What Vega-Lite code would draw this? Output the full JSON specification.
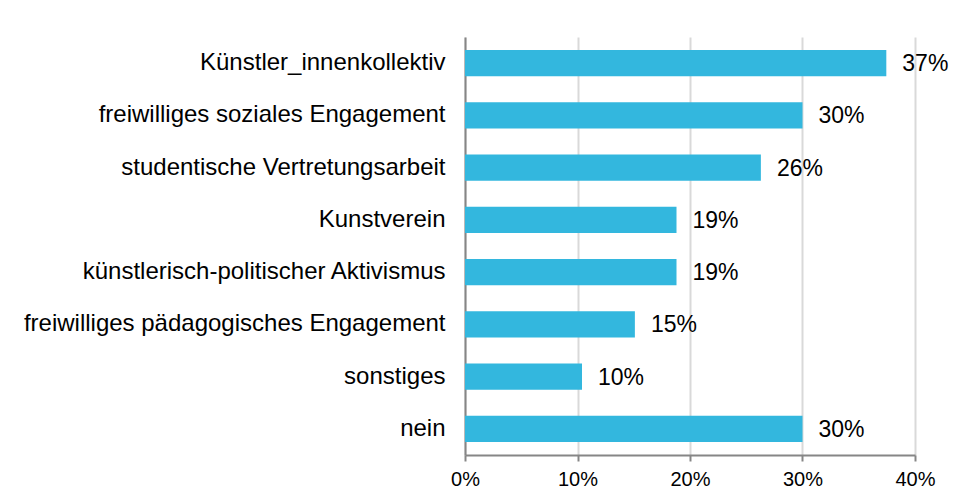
{
  "$schema": "https://vega.github.io/schema/vega-lite/v6.json",
  "autosize": {"type": "none"},
  "padding": {"left": 465, "top": 37, "right": 39, "bottom": 49},
  "width": 450,
  "height": 418,
  "background": "white",
  "config": {
    "view": {"stroke": null},
    "font": "Liberation Sans"
  },
  "data": {
    "values": [
      {"kategorie": "Künstler_innenkollektiv", "anteil": 0.3745},
      {"kategorie": "freiwilliges soziales Engagement", "anteil": 0.300},
      {"kategorie": "studentische Vertretungsarbeit", "anteil": 0.263},
      {"kategorie": "Kunstverein", "anteil": 0.188},
      {"kategorie": "künstlerisch-politischer Aktivismus", "anteil": 0.188},
      {"kategorie": "freiwilliges pädagogisches Engagement", "anteil": 0.151},
      {"kategorie": "sonstiges", "anteil": 0.104},
      {"kategorie": "nein", "anteil": 0.300}
    ]
  },
  "encoding": {
    "y": {
      "field": "kategorie",
      "type": "nominal",
      "sort": null,
      "scale": {"paddingInner": 0.5, "paddingOuter": 0.25},
      "axis": {
        "title": null,
        "ticks": false,
        "domainColor": "#868686",
        "domainWidth": 2,
        "labelFontSize": 24,
        "labelColor": "#000000",
        "labelPadding": 20,
        "labelLimit": 460,
        "grid": false
      }
    },
    "x": {
      "field": "anteil",
      "type": "quantitative",
      "scale": {"domain": [0, 0.4], "nice": false},
      "axis": {
        "title": null,
        "format": ".0%",
        "values": [0, 0.1, 0.2, 0.3, 0.4],
        "domainColor": "#868686",
        "domainWidth": 2,
        "tickColor": "#868686",
        "tickWidth": 2,
        "tickSize": 6,
        "labelFontSize": 20,
        "labelColor": "#000000",
        "labelPadding": 8,
        "gridColor": "#d9d9d9",
        "gridWidth": 2,
        "labelFlush": false
      }
    }
  },
  "layer": [
    {"mark": {"type": "bar", "color": "#33b7de"}},
    {
      "mark": {"type": "text", "align": "left", "baseline": "middle", "dx": 16, "dy": 1, "fontSize": 23, "color": "#000000"},
      "encoding": {"text": {"field": "anteil", "type": "quantitative", "format": ".0%"}}
    }
  ]
}
